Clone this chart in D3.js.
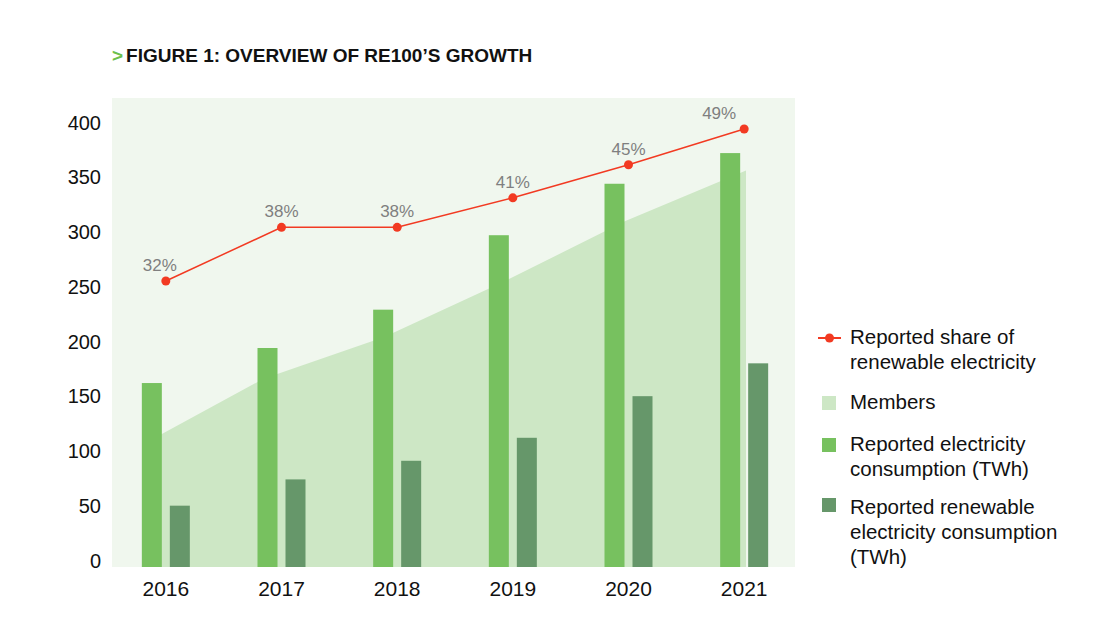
<!DOCTYPE html>
<html>
<head>
<meta charset="utf-8">
<script src="https://cdn.jsdelivr.net/npm/d3@7"></script>
<style>
  body { margin: 0; background: #fff; }
  text { font-family: "Liberation Sans", Arial, sans-serif; }
</style>
</head>
<body>
<script>
// data
const years = ["2016", "2017", "2018", "2019", "2020", "2021"];
const consumption = [168, 200, 235, 303, 350, 378];     // reported electricity consumption (TWh)
const renewable = [56, 80, 97, 118, 156, 186];          // reported renewable electricity consumption (TWh)
const members = [112, 172, 210, 261, 316, 362];
const share = [32, 38, 38, 41.3, 45, 49];               // reported share of renewable electricity (%)
const shareLabels = ["32%", "38%", "38%", "41%", "45%", "49%"];
const yTicks = [0, 50, 100, 150, 200, 250, 300, 350, 400];

const w = 1107, h = 626;
const labelDx = [-6, 0, 0, 0, 0, -25];

const svg = d3.select("body").append("svg")
   .attr("width", w)
   .attr("height", h);

const x = d3.scaleBand().domain(years).range([108, 802]);
const xArea = d3.scalePoint().domain(years).range([143, 746]);
const y = d3.scaleLinear().domain([0, 400]).range([567, 129]);
const yShare = d3.scaleLinear().domain([0, 49]).range([567, 129]);

const mid = (d) => x(d) + x.bandwidth() / 2;

// title
const title = svg.append("text").attr("x", 112).attr("y", 62)
   .style("font-size", "19px").style("font-weight", "bold");
title.append("tspan").attr("fill", "#6dbf4b").text(">");
title.append("tspan").attr("dx", 3).attr("fill", "#111").text("FIGURE 1: OVERVIEW OF RE100\u2019S GROWTH");

// plot background
svg.append("rect")
   .attr("x", 112).attr("y", 98)
   .attr("width", 795 - 112).attr("height", y(0) - 98)
   .attr("fill", "#f0f7ee");

// members area
const area = d3.area()
   .x((d, i) => xArea(years[i]))
   .y0(y(0))
   .y1((d) => y(d));
svg.append("path")
   .datum(members)
   .attr("d", area)
   .attr("fill", "#cde7c5");

// bars
svg.selectAll("rect.cons")
   .data(consumption)
   .enter()
   .append("rect")
   .attr("class", "cons")
   .attr("x", (d, i) => mid(years[i]) - 24)
   .attr("y", (d) => y(d))
   .attr("width", 20)
   .attr("height", (d) => y(0) - y(d))
   .attr("fill", "#77c15f");

svg.selectAll("rect.ren")
   .data(renewable)
   .enter()
   .append("rect")
   .attr("class", "ren")
   .attr("x", (d, i) => mid(years[i]) + 4)
   .attr("y", (d) => y(d))
   .attr("width", 20)
   .attr("height", (d) => y(0) - y(d))
   .attr("fill", "#66976a");

// share line
const line = d3.line()
   .x((d, i) => mid(years[i]))
   .y((d) => yShare(d));
svg.append("path")
   .datum(share)
   .attr("d", line)
   .attr("fill", "none")
   .attr("stroke", "#f23a22")
   .attr("stroke-width", 1.5);

svg.selectAll("circle.pt")
   .data(share)
   .enter()
   .append("circle")
   .attr("class", "pt")
   .attr("cx", (d, i) => mid(years[i]))
   .attr("cy", (d) => yShare(d))
   .attr("r", 4.5)
   .attr("fill", "#f23a22");

svg.selectAll("text.pct")
   .data(share)
   .enter()
   .append("text")
   .attr("class", "pct")
   .attr("x", (d, i) => mid(years[i]) + labelDx[i])
   .attr("y", (d) => yShare(d) - 10)
   .attr("text-anchor", "middle")
   .attr("fill", "#7f7f7f")
   .style("font-size", "17px")
   .text((d, i) => shareLabels[i]);

// axes
const yAxis = d3.axisLeft(y).tickValues(yTicks).tickSize(0).tickPadding(3);
const gy = svg.append("g")
   .attr("transform", "translate(104,0)")
   .call(yAxis);
gy.select(".domain").remove();
gy.selectAll("text").attr("dy", 0).attr("fill", "#111").style("font-size", "20px");

const xAxis = d3.axisBottom(x).tickSize(0).tickPadding(14);
const gx = svg.append("g")
   .attr("transform", "translate(0," + y(0) + ")")
   .call(xAxis);
gx.select(".domain").remove();
gx.selectAll("text").attr("fill", "#111").style("font-size", "21px");

// legend
const lg = svg.append("g").style("font-size", "20.5px").attr("fill", "#111");

lg.append("line").attr("x1", 818).attr("x2", 841).attr("y1", 338).attr("y2", 338)
   .attr("stroke", "#f23a22").attr("stroke-width", 2);
lg.append("circle").attr("cx", 829.5).attr("cy", 338).attr("r", 4.5).attr("fill", "#f23a22");

const swatches = [["#cde7c5", 396], ["#77c15f", 438], ["#66976a", 498]];
swatches.forEach(function(s) {
   lg.append("rect").attr("x", 822).attr("y", s[1]).attr("width", 14).attr("height", 14).attr("fill", s[0]);
});

const legendText = [
   ["Reported share of", 344], ["renewable electricity", 369],
   ["Members", 409],
   ["Reported electricity", 451], ["consumption (TWh)", 476],
   ["Reported renewable", 514], ["electricity consumption", 539], ["(TWh)", 564]
];
legendText.forEach(function(t) {
   lg.append("text").attr("x", 850).attr("y", t[1]).text(t[0]);
});
</script>
</body>
</html>
